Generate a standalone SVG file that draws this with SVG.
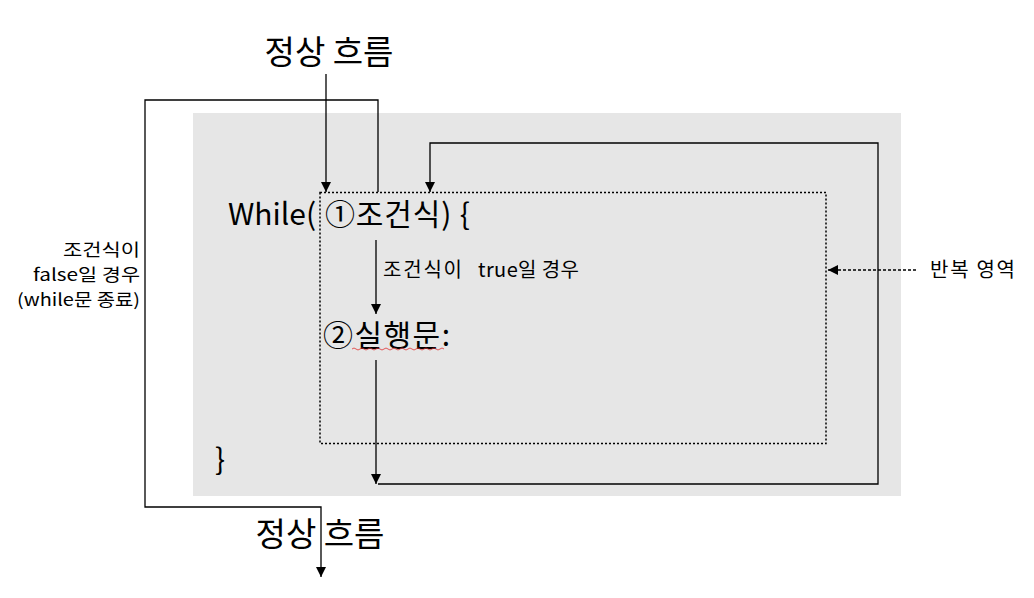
<svg xmlns="http://www.w3.org/2000/svg" width="1034" height="598" viewBox="0 0 1034 598">
<defs>
<marker id="ah" viewBox="0 0 10 10" refX="10" refY="5" markerWidth="10" markerHeight="10" markerUnits="userSpaceOnUse" orient="auto">
<path d="M0,0 L10,5 L0,10 z" fill="#000"/>
</marker>
</defs>
<style>
text{font-family:"Noto Sans CJK KR","Noto Sans",sans-serif;fill:#000}
.big{font-size:30px}
.hd{font-size:33px}
.sm{font-size:20px}
.st{font-size:17px}
.ln{fill:none;stroke:#000;stroke-width:1.3}
</style>
<rect width="1034" height="598" fill="#fff"/>
<g id="loop-area">
<rect x="193" y="113" width="708" height="383" fill="#e6e6e6"/>
</g>
<g id="repeat-region">
<rect x="320" y="192.5" width="506" height="251" fill="none" stroke="#000" stroke-width="1.5" stroke-dasharray="2,2"/>
</g>
<g id="connectors">
<path class="ln" d="M326,74 V192" marker-end="url(#ah)"/>
<path class="ln" d="M378,192 V100 H145 V507 H321 V577" marker-end="url(#ah)"/>
<path class="ln" d="M378,484 H878 V143 H430 V192" marker-end="url(#ah)" stroke="#333"/>
<path class="ln" d="M376,240 V314" marker-end="url(#ah)"/>
<path class="ln" d="M376,360 V484" marker-end="url(#ah)"/>
<path class="ln" d="M916,270 H828" stroke-dasharray="3,2" stroke-width="1" marker-end="url(#ah)"/>
</g>
<g id="top-label"><text class="hd" x="329" y="64" text-anchor="middle">정상 흐름</text></g>
<g id="while-line"><text class="big" x="228" y="225">While(</text><text class="big" x="325" y="225" textLength="145">①조건식) {</text></g>
<g id="true-label"><text class="sm" x="383" y="277" textLength="79">조건식이</text><text class="sm" x="478" y="277" textLength="101">true일 경우</text></g>
<g id="stmt"><text class="big" x="323" y="346" textLength="127">②실행문:</text>
<path d="M352,349 q2,-2 4,0 t4,0 t4,0 t4,0 t4,0 t4,0 t4,0 t4,0 t4,0 t4,0 t4,0 t4,0 t4,0 t4,0 t4,0 t4,0 t4,0 t4,0 t4,0 t4,0 t4,0 t4,0 t4,0" fill="none" stroke="#e03030" stroke-width="0.8"/></g>
<g id="close-brace"><text class="big" x="215" y="470">}</text></g>
<g id="false-label">
<text class="st" x="140" y="256" text-anchor="end" textLength="77" lengthAdjust="spacingAndGlyphs">조건식이</text>
<text class="st" x="140" y="281" text-anchor="end" textLength="107" lengthAdjust="spacingAndGlyphs">false일 경우</text>
<text class="st" x="140" y="306" text-anchor="end" textLength="123" lengthAdjust="spacingAndGlyphs">(while문 종료)</text>
</g>
<g id="repeat-label"><text class="sm" x="930" y="277" textLength="85">반복 영역</text></g>
<g id="bottom-label"><text class="hd" x="320" y="546" text-anchor="middle">정상 흐름</text></g>
</svg>
